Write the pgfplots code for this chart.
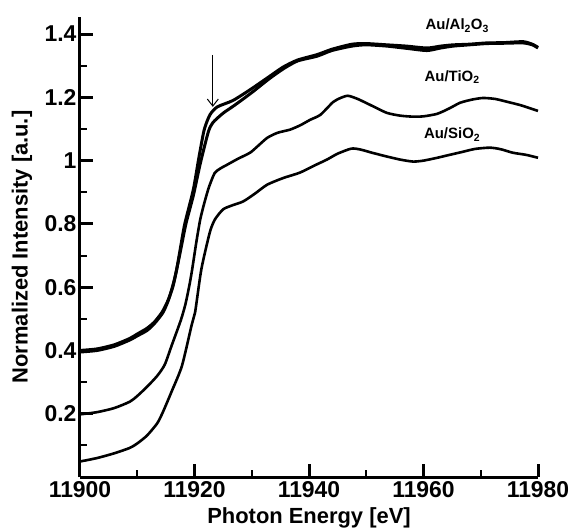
\documentclass[border=0pt]{standalone}
\usepackage{fontspec}
\setmainfont{Liberation Sans}
\usepackage{pgfplots}
\pgfplotsset{compat=1.18}
\usetikzlibrary{arrows.meta}

% Au L3-edge XANES, three supports
\pgfplotstableread{
E I
11900 0.400
11903 0.405
11906 0.418
11908.7 0.438
11910 0.452
11911.7 0.470
11913 0.490
11914.3 0.520
11915.3 0.555
11916.2 0.600
11916.9 0.657
11917.6 0.730
11918.3 0.800
11919.8 0.909
11920.8 1.013
11921.7 1.098
11922.7 1.145
11924 1.170
11926.7 1.190
11929.7 1.224
11933 1.265
11935.5 1.296
11938 1.318
11941.4 1.335
11944 1.352
11947.5 1.368
11950 1.370
11953.6 1.366
11957 1.362
11960.6 1.356
11963 1.362
11965.2 1.366
11968 1.368
11971 1.372
11974 1.373
11977.4 1.376
11979 1.368
11980 1.358
}\alA

\pgfplotstableread{
E I
11900 0.395
11903 0.400
11906 0.413
11908.7 0.433
11910 0.446
11911.7 0.463
11913 0.485
11914.5 0.520
11915.5 0.562
11916.5 0.625
11917.5 0.710
11918.5 0.800
11919.8 0.890
11921 0.990
11922.4 1.090
11923.2 1.120
11925 1.150
11927 1.175
11930 1.215
11933 1.258
11935.5 1.290
11938 1.315
11941.4 1.330
11944 1.348
11947.5 1.362
11950 1.366
11953.6 1.362
11957 1.355
11960.6 1.348
11963 1.356
11965.2 1.362
11968 1.366
11971 1.370
11974 1.371
11977.4 1.372
11979 1.366
11980 1.356
}\alB

\pgfplotstableread{
E I
11900 0.198
11903 0.205
11906 0.218
11908.7 0.238
11910 0.256
11911.7 0.285
11913.5 0.320
11914.8 0.355
11916 0.415
11917.6 0.495
11918.4 0.545
11919.1 0.605
11919.6 0.657
11920.3 0.740
11921 0.814
11921.7 0.865
11922.5 0.915
11923.5 0.960
11924.5 0.975
11925.7 0.987
11927.5 1.005
11929.7 1.025
11931 1.045
11932.7 1.072
11934.5 1.088
11936.7 1.098
11938.5 1.112
11940.2 1.129
11942 1.145
11944.2 1.185
11945.5 1.198
11946.8 1.205
11948.5 1.195
11950.7 1.176
11953.6 1.151
11956 1.142
11958.2 1.139
11960 1.140
11962.4 1.148
11964.5 1.165
11966.4 1.183
11968.5 1.193
11970.4 1.198
11972.5 1.195
11974.6 1.186
11977 1.175
11980 1.157
}\ti

\pgfplotstableread{
E I
11900 0.049
11903 0.060
11906 0.075
11908.7 0.092
11910 0.106
11911.7 0.131
11913.5 0.170
11914.5 0.206
11916 0.270
11917.8 0.351
11919.5 0.480
11920.1 0.520
11921.2 0.657
11922.7 0.775
11923.6 0.815
11925 0.846
11926.5 0.858
11928.5 0.871
11930.5 0.895
11932.7 0.924
11935.5 0.945
11938.4 0.962
11941 0.985
11943.1 1.003
11945 1.022
11947.4 1.038
11949 1.035
11951 1.025
11953.6 1.013
11956 1.003
11958.2 0.997
11960 1.000
11962.4 1.009
11964.5 1.018
11966.9 1.028
11969 1.037
11971.6 1.041
11973.5 1.036
11975.6 1.025
11978 1.018
11980 1.009
}\si

\begin{document}
\begin{tikzpicture}
\path[use as bounding box] (-80bp,-51bp) rectangle (494bp,477bp);
\begin{axis}[
  at={(0,0)}, anchor=south west,
  scale only axis,
  width=458bp, height=460bp,
  xmin=11900, xmax=11980,
  ymin=0, ymax=1.454,
  axis lines*=left,
  axis line style={line width=3bp},
  major tick style={black, line width=3bp},
  minor tick style={black, line width=2bp},
  tick align=inside,
  major tick length=13bp,
  minor tick length=7bp,
  xtick={11900,11920,...,11980},
  ytick={0.2,0.4,...,1.41},
  minor xtick={11910,11930,11950,11970},
  minor ytick={0.1,0.3,...,1.31},
  scaled x ticks=false,
  /pgf/number format/1000 sep={},
  /pgf/number format/assume math mode=true,
  tick label style={font=\fontsize{23}{26}\selectfont\bfseries},
  xticklabel style={yshift=-1bp},
  xlabel={Photon Energy [eV]},
  ylabel={Normalized Intensity [a.u.]},
  label style={font=\fontsize{22}{25}\selectfont\bfseries},
  xlabel style={at={(axis description cs:0.5,-0.089)}, anchor=center},
  ylabel style={at={(axis description cs:-0.127,0.5)}, anchor=center},
  clip=false,
]
\pgfplotsset{xas/.style={black, no markers, line width=3bp, smooth, tension=0.4}}
\addplot[xas] table[x=E, y=I] {\alA};
\addplot[xas] table[x=E, y=I] {\alB};
\addplot[xas, line width=2.6bp] table[x=E, y=I] {\ti};
\addplot[xas, line width=2.6bp] table[x=E, y=I] {\si};

\draw[-{Straight Barb[length=7bp,width=11bp]}, line width=1bp]
  (axis cs:11923.2,1.334) -- (axis cs:11923.2,1.17);

\node[font=\fontsize{15}{17}\selectfont\bfseries] at (axis cs:11965.9,1.427) {Au/Al\textsubscript{2}O\textsubscript{3}};
\node[font=\fontsize{15}{17}\selectfont\bfseries] at (axis cs:11965,1.265) {Au/TiO\textsubscript{2}};
\node[font=\fontsize{15}{17}\selectfont\bfseries] at (axis cs:11965,1.082) {Au/SiO\textsubscript{2}};
\end{axis}
\end{tikzpicture}
\end{document}
